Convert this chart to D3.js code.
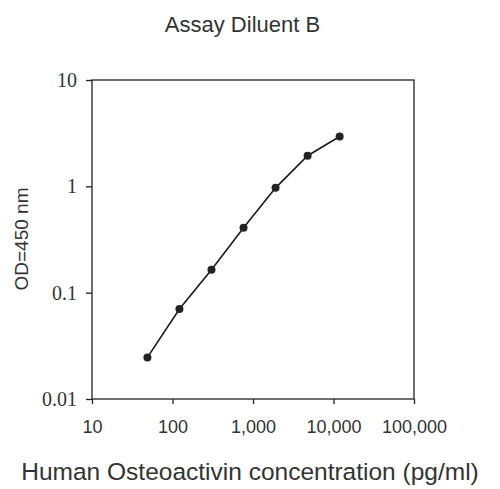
<!DOCTYPE html>
<html>
<head>
<meta charset="utf-8">
<script src="https://cdn.jsdelivr.net/npm/d3@7"></script>
<style>
  body { margin: 0; background: #fff; }
  svg { display: block; }
</style>
</head>
<body>
<div id="chart"></div>
<script>
var margin = {top: 80, right: 86, bottom: 90, left: 92},
    width = 500 - margin.left - margin.right,
    height = 489 - margin.top - margin.bottom;

// concentration (pg/ml) and OD readings
var conc = [48.8, 122, 305, 763, 1907, 4768, 11920];
var od = [0.0246, 0.0702, 0.164, 0.407, 0.968, 1.94, 2.94];
var xTicks = [10, 100, 1000, 10000, 100000];
var yTicks = [0.01, 0.1, 1, 10];

var data = conc.map(function(c, i) { return {x: c, y: od[i]}; });

var svg = d3.select("#chart")
    .append("svg")
        .attr("width", 500)
        .attr("height", 489)
    .append("g")
        .attr("transform", "translate(" + margin.left + "," + margin.top + ")");

var x = d3.scaleLog().domain([10, 100000]).range([0, width]);
var y = d3.scaleLog().domain([0.01, 10]).range([height, 0]);

// frame
svg.append("rect")
    .attr("width", width)
    .attr("height", height)
    .attr("fill", "none")
    .attr("stroke", "#222")
    .attr("stroke-width", 1.3);

var xAxis = svg.append("g")
    .attr("transform", "translate(0," + height + ")")
    .call(d3.axisBottom(x).tickValues(xTicks).tickSize(5).tickPadding(16)
        .tickFormat(d3.format(",")));

var yAxis = svg.append("g")
    .call(d3.axisLeft(y).tickValues(yTicks).tickSize(6).tickPadding(9)
        .tickFormat(function(d) { return d; }));

xAxis.select(".domain").remove();
yAxis.select(".domain").remove();
xAxis.selectAll("line").attr("stroke", "#222").attr("stroke-width", 1.3);
yAxis.selectAll("line").attr("stroke", "#222").attr("stroke-width", 1.3);
xAxis.selectAll("text")
    .attr("font-family", "Liberation Sans, Arial, sans-serif")
    .attr("font-size", 18)
    .attr("fill", "#333");
yAxis.selectAll("text")
    .attr("font-family", "Liberation Serif, Times New Roman, serif")
    .attr("font-size", 20)
    .attr("fill", "#333");

var line = d3.line()
    .x(function(d) { return x(d.x); })
    .y(function(d) { return y(d.y); });

svg.append("path")
    .datum(data)
    .attr("d", line)
    .attr("fill", "none")
    .attr("stroke", "#1a1a1a")
    .attr("stroke-width", 1.6);

svg.selectAll(".dot")
    .data(data)
    .enter()
    .append("circle")
        .attr("class", "dot")
        .attr("cx", function(d) { return x(d.x); })
        .attr("cy", function(d) { return y(d.y); })
        .attr("r", 4)
        .attr("fill", "#222");

// titles
svg.append("text")
    .attr("x", 242.5 - margin.left)
    .attr("y", 32 - margin.top)
    .attr("text-anchor", "middle")
    .attr("font-family", "Liberation Sans, Arial, sans-serif")
    .attr("font-size", 22)
    .attr("fill", "#333")
    .text("Assay Diluent B");

svg.append("text")
    .attr("x", 250 - margin.left)
    .attr("y", 480 - margin.top)
    .attr("text-anchor", "middle")
    .attr("font-family", "Liberation Sans, Arial, sans-serif")
    .attr("font-size", 24.5)
    .attr("fill", "#333")
    .text("Human Osteoactivin concentration (pg/ml)");

svg.append("text")
    .attr("transform", "translate(" + (28 - margin.left) + "," + (239 - margin.top) + ") rotate(-90)")
    .attr("text-anchor", "middle")
    .attr("font-family", "Liberation Sans, Arial, sans-serif")
    .attr("font-size", 19)
    .attr("fill", "#333")
    .text("OD=450 nm");
</script>
</body>
</html>
